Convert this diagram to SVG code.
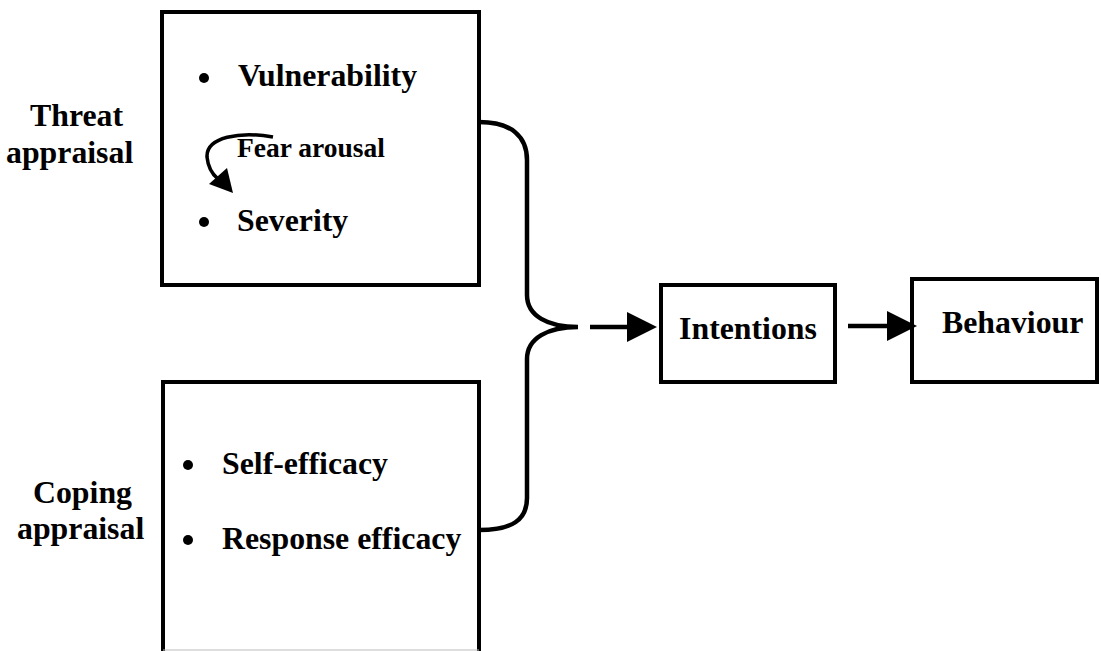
<svg xmlns="http://www.w3.org/2000/svg" width="1101" height="651" viewBox="0 0 1101 651">
<style>
.t{font-family:"Liberation Serif","Times New Roman",serif;font-weight:bold;font-size:31.8px;fill:#000}
.s{font-size:27.5px}
.box{fill:#fff;stroke:#000;stroke-width:4}
.ln{fill:none;stroke:#000;stroke-width:4.5}
</style>
<rect width="1101" height="651" fill="#fff"/>
<g id="threat-label">
<text class="t" x="30" y="126">Threat</text>
<text class="t" x="6" y="163">appraisal</text>
</g>
<g id="threat-box">
<rect class="box" x="162" y="12" width="317" height="273"/>
<circle cx="204" cy="78" r="5"/>
<text class="t" x="238" y="86">Vulnerability</text>
<text class="t s" x="237" y="157">Fear arousal</text>
<path d="M273 137 C240 131,206 137,207 157 C208 167,212 174,218 179" fill="none" stroke="#000" stroke-width="3.5"/>
<polygon points="233,193 209,184 227,168"/>
<circle cx="204" cy="222" r="5"/>
<text class="t" x="237" y="231">Severity</text>
</g>
<g id="coping-label">
<text class="t" x="33" y="503">Coping</text>
<text class="t" x="17" y="539">appraisal</text>
</g>
<g id="coping-box">
<path class="box" d="M163 655 V382 H479 V655"/>
<line x1="163" y1="650" x2="479" y2="650" stroke="#bbb" stroke-width="1"/>
<circle cx="188" cy="465" r="5"/>
<text class="t" x="222" y="474">Self-efficacy</text>
<circle cx="188" cy="540" r="5"/>
<text class="t" x="222" y="549">Response efficacy</text>
</g>
<g id="intentions">
<rect class="box" x="661" y="285" width="174" height="97"/>
<text class="t" x="748" y="339" text-anchor="middle">Intentions</text>
</g>
<g id="behaviour">
<rect class="box" x="912" y="279" width="185" height="103"/>
<text class="t" x="942" y="333">Behaviour</text>
</g>
<g id="connectors">
<path class="ln" d="M479 122 C512 122,527 137,527 160 V295 C527 316,548 327,578 327 C548 327,527 338,527 359 V498 C527 520,512 530,479 530"/>
<line class="ln" x1="590" y1="327" x2="630" y2="327"/>
<polygon points="627,312 657,327 627,342"/>
<line class="ln" x1="848" y1="326" x2="890" y2="326"/>
<polygon points="887,311 917,326 887,341"/>
</g>
</svg>
